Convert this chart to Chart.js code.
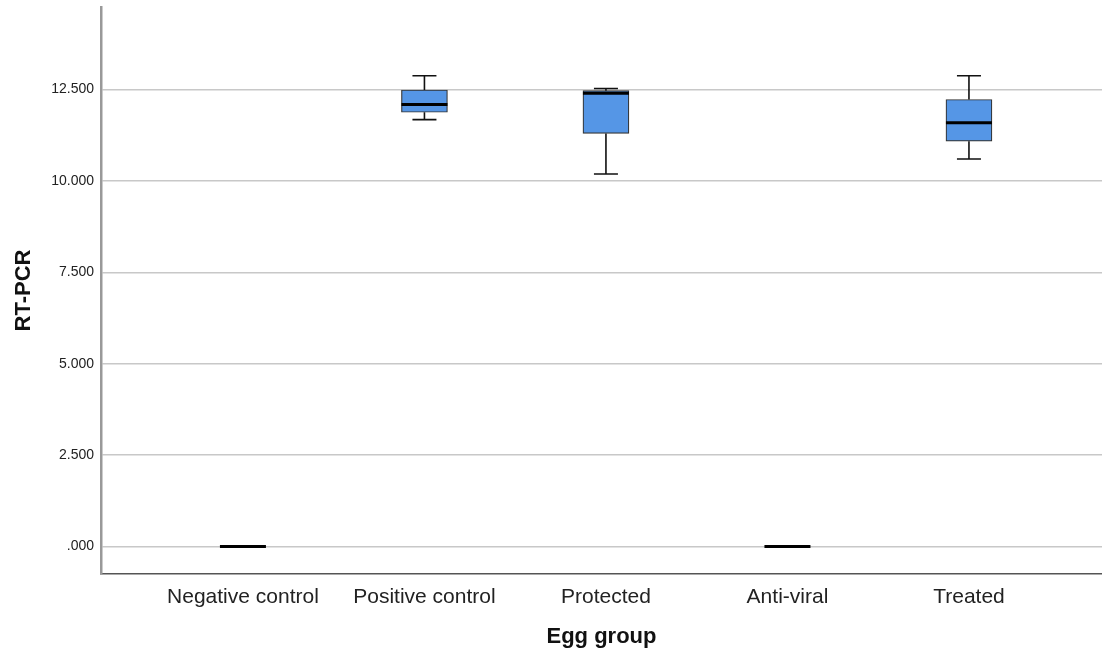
<!DOCTYPE html>
<html>
<head>
<meta charset="utf-8">
<script src="https://cdn.jsdelivr.net/npm/chart.js@4/dist/chart.umd.min.js"></script>
<style>
  html, body { margin: 0; padding: 0; background: #fff; }
  #wrap { width: 1102px; height: 653px; position: relative; }
</style>
</head>
<body>
<div id="wrap"><canvas id="chart"></canvas></div>
<script>
// RT-PCR by egg group (box plot)
const categories = ["Negative control", "Positive control", "Protected", "Anti-viral", "Treated"];
const minVals = [0, 11.68, 10.19, 0, 10.60];
const q1Vals = [0, 11.88, 11.30, 0, 11.09];
const medianVals = [0, 12.09, 12.40, 0, 11.59];
const q3Vals = [0, 12.49, 12.47, 0, 12.23];
const maxVals = [0, 12.88, 12.53, 0, 12.88];
const yTicks = [0, 2.5, 5, 7.5, 10, 12.5];

const BOX_W = 46;
const CAP_W = 24;
const FONT = "'Liberation Sans', Arial, sans-serif";

// whiskers, caps and median lines, placed through the chart scales
const boxPlotLines = {
  id: "boxPlotLines",
  afterDatasetsDraw(chart) {
    const { ctx, scales: { x, y } } = chart;
    ctx.save();
    categories.forEach((c, i) => {
      const cx = x.getPixelForValue(i + 1);
      ctx.strokeStyle = "#111";
      ctx.lineWidth = 1.6;
      if (maxVals[i] > q3Vals[i]) {
        const top = y.getPixelForValue(maxVals[i]);
        ctx.beginPath();
        ctx.moveTo(cx, y.getPixelForValue(q3Vals[i]));
        ctx.lineTo(cx, top);
        ctx.moveTo(cx - CAP_W / 2, top);
        ctx.lineTo(cx + CAP_W / 2, top);
        ctx.stroke();
      }
      if (minVals[i] < q1Vals[i]) {
        const bot = y.getPixelForValue(minVals[i]);
        ctx.beginPath();
        ctx.moveTo(cx, y.getPixelForValue(q1Vals[i]));
        ctx.lineTo(cx, bot);
        ctx.moveTo(cx - CAP_W / 2, bot);
        ctx.lineTo(cx + CAP_W / 2, bot);
        ctx.stroke();
      }
      const my = y.getPixelForValue(medianVals[i]);
      ctx.lineWidth = 3;
      ctx.strokeStyle = "#000";
      ctx.beginPath();
      ctx.moveTo(cx - BOX_W / 2, my);
      ctx.lineTo(cx + BOX_W / 2, my);
      ctx.stroke();
    });
    ctx.restore();
  },
};

new Chart(document.getElementById("chart"), {
  type: "bar",
  data: {
    datasets: [
      {
        label: "RT-PCR",
        data: categories.map((c, i) => ({ x: i + 1, y: [q1Vals[i], q3Vals[i]] })),
        backgroundColor: "#5596e6",
        borderColor: (ctx) => (q3Vals[ctx.dataIndex] > q1Vals[ctx.dataIndex] ? "#333" : "rgba(0,0,0,0)"),
        borderWidth: 1.2,
        borderSkipped: false,
        barThickness: BOX_W,
      },
    ],
  },
  options: {
    responsive: true,
    maintainAspectRatio: false,
    animation: false,
    layout: { padding: { top: 7, right: 0, left: 0, bottom: 0 } },
    plugins: { legend: { display: false }, tooltip: { enabled: false } },
    scales: {
      x: {
        type: "linear",
        offset: false,
        min: 0.218,
        max: 5.733,
        afterBuildTicks: (axis) => {
          axis.ticks = categories.map((c, i) => ({ value: i + 1 }));
        },
        afterFit: (axis) => {
          axis.height = 79;
          axis.paddingLeft = 0;
          axis.paddingRight = 0;
        },
        grid: { display: false, drawTicks: false, offset: false },
        border: { display: true, color: "#555", width: 1.5 },
        ticks: {
          autoSkip: false,
          maxRotation: 0,
          padding: 11,
          color: "#222",
          font: { family: FONT, size: 21 },
          callback: (v) => categories[v - 1] ?? "",
        },
        title: {
          display: true,
          text: "Egg group",
          color: "#111",
          font: { family: FONT, size: 22, weight: "bold" },
          padding: { top: 0, bottom: 3 },
        },
      },
      y: {
        min: -0.752,
        max: 14.76,
        afterBuildTicks: (axis) => {
          axis.ticks = yTicks.map((v) => ({ value: v }));
        },
        afterFit: (axis) => {
          axis.width = 101;
          axis.paddingTop = 0;
          axis.paddingBottom = 0;
        },
        grid: { color: "#c8c8c8", lineWidth: 1.5, drawTicks: false },
        border: { display: true, color: "#999", width: 2.5 },
        ticks: {
          padding: 7,
          color: "#222",
          font: { family: FONT, size: 14 },
          callback: (v) => v.toFixed(3).replace(/^0/, ""),
        },
        title: {
          display: true,
          text: "RT-PCR",
          color: "#111",
          font: { family: FONT, size: 22, weight: "bold" },
          padding: { top: 11, bottom: 0 },
        },
      },
    },
  },
  plugins: [boxPlotLines],
});
</script>
</body>
</html>
